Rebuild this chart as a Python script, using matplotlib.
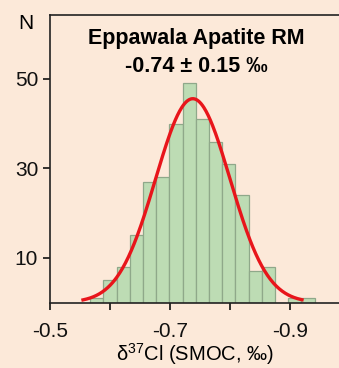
import numpy as np
import matplotlib
matplotlib.use("Agg")
import matplotlib.pyplot as plt

plt.rcParams['font.family'] = ['Liberation Sans', 'DejaVu Sans']
plt.rcParams['mathtext.default'] = 'regular'

# histogram of d37Cl values (bin edges in per mil, counts)
bin_edges = [-0.567, -0.589, -0.611, -0.633, -0.655, -0.677, -0.699, -0.721, -0.743,
             -0.765, -0.787, -0.809, -0.831, -0.853, -0.875, -0.897, -0.919, -0.941]
counts = [1, 5, 8, 15, 27, 28, 40, 49, 41, 36, 31, 24, 7, 8, 0, 1, 1]

# normal fit
fit_mean = -0.738
fit_sd = 0.062
fit_range = (-0.555, -0.92)

x_ticks = [-0.5, -0.6, -0.7, -0.8, -0.9]
x_labels = ['-0.5', '', '-0.7', '', '-0.9']
y_ticks = [10, 30, 50]

bg = '#fce9d9'

fig = plt.figure(figsize=(3.39, 3.68), dpi=100, facecolor=bg)
ax = fig.add_axes([50 / 339, 65.5 / 368, 1 - 50 / 339, (302.5 - 15) / 368])
ax.set_facecolor(bg)

edges = np.array(bin_edges)
ax.bar(edges[:-1], counts, width=np.diff(edges), align='edge',
       color='#bddcb4', edgecolor='#8fa88a', linewidth=0.9, zorder=2)

bw = abs(edges[1] - edges[0])
xs = np.linspace(fit_range[0], fit_range[1], 300)
ys = sum(counts) * bw / (fit_sd * np.sqrt(2 * np.pi)) * np.exp(-0.5 * ((xs - fit_mean) / fit_sd) ** 2)
ax.plot(xs, ys, color='#e8151b', linewidth=2.4, zorder=3)

ax.set_xlim(-0.5, -0.5 - 289 / 600)
ax.set_ylim(0, 64.3)

ax.set_xticks(x_ticks)
ax.set_xticklabels(x_labels)
ax.set_yticks(y_ticks)
ax.tick_params(axis='x', length=5, width=1.2, pad=9, labelsize=15, colors='#111111')
ax.tick_params(axis='y', length=5, width=1.2, pad=3.5, labelsize=15, colors='#111111')

for s in ['left', 'bottom', 'top']:
    ax.spines[s].set_linewidth(1.2)
    ax.spines[s].set_color('#222222')
ax.spines['right'].set_visible(False)

ax.set_xlabel('δ$^{37}$Cl (SMOC, ‰)', fontsize=14.5, labelpad=0)
ax.text(-0.083, 0.969, 'N', transform=ax.transAxes, fontsize=15,
        ha='center', va='center')
ax.text(0.505, 0.955, 'Eppawala Apatite RM\n-0.74 ± 0.15 ‰', transform=ax.transAxes,
        fontsize=15.5, fontweight='bold', ha='center', va='top', linespacing=1.45)

fig.savefig('out.png', dpi=100, facecolor=bg)
